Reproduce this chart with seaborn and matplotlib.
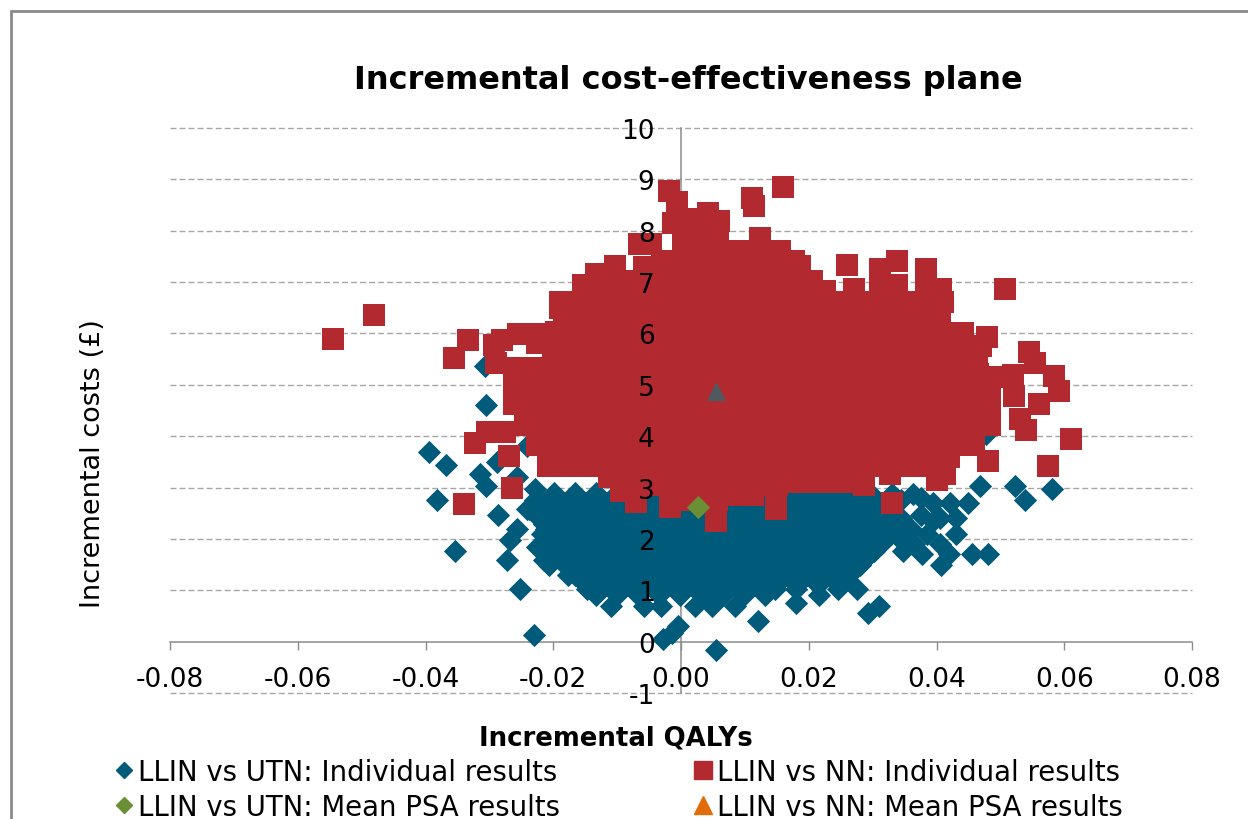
import pandas as pd
import matplotlib
matplotlib.use('Agg')
import matplotlib.pyplot as plt
from matplotlib.lines import Line2D
from matplotlib.patches import Rectangle
import seaborn as sns

TITLE = 'Incremental cost-effectiveness plane'
XLABEL = 'Incremental QALYs'
YLABEL = 'Incremental costs (£)'
X_TICKS = [-0.08, -0.06, -0.04, -0.02, 0.0, 0.02, 0.04, 0.06, 0.08]
Y_TICKS = [-1, 0, 1, 2, 3, 4, 5, 6, 7, 8, 9, 10]

# LLIN vs UTN (cost, [qalys])
utn_rows = [
    (-0.17, [0.0055]),
    (0.06, [-0.0028]), (0.12, [-0.023]), (0.16, [-0.0014]), (0.31, [-0.0005]),
    (0.41, [0.012]), (0.56, [0.0293]),
    (0.7, [-0.011, -0.0058, -0.0031, 0.0022, 0.0049, 0.0085, 0.031]),
    (0.76, [0.018]),
    (0.9, [-0.0133, -0.01, -0.0067, -0.0034, -0.0001, 0.0032, 0.0065, 0.0098, 0.0131, 0.0216]),
    (1.03, [-0.0252, -0.0147, 0.0147, 0.018, 0.0246, 0.0275]),
    (1.1, [-0.0149, -0.0116, -0.0083, -0.005, -0.0017, 0.0016, 0.0049, 0.0082, 0.0115, 0.0148, 0.0181,
           0.0214, 0.0247]),
    (1.3, [-0.0177, -0.0166, -0.0133, -0.01, -0.0067, -0.0034, -0.0001, 0.0032, 0.0065, 0.0098, 0.0131,
           0.0164, 0.0197, 0.023, 0.0263]),
    (1.5, [-0.0206, -0.0182, -0.0149, -0.0116, -0.0083, -0.005, -0.0017, 0.0016, 0.0049, 0.0082, 0.0115,
           0.0148, 0.0181, 0.0214, 0.0247, 0.028, 0.0407]),
    (1.7, [-0.0199, -0.0166, -0.0133, -0.01, -0.0067, -0.0034, -0.0001, 0.0032, 0.0065, 0.0098, 0.0131,
           0.0164, 0.0197, 0.023, 0.0263, 0.0296, 0.0377, 0.042, 0.0455, 0.0481]),
    (1.77, [-0.0354, 0.0347, 0.0302]),
    (1.58, [-0.0272, -0.0214]),
    (1.85, [-0.0225]),
    (1.9, [-0.0215, -0.0182, -0.0149, -0.0116, -0.0083, -0.005, -0.0017, 0.0016, 0.0049, 0.0082, 0.0115,
           0.0148, 0.0181, 0.0214, 0.0247, 0.028, 0.0313, 0.0365, 0.0405]),
    (1.97, [-0.0268, 0.0345]),
    (2.1, [-0.0218, -0.0199, -0.0166, -0.0133, -0.01, -0.0067, -0.0034, -0.0001, 0.0032, 0.0065, 0.0098, 0.0131,
           0.0164, 0.0197, 0.023, 0.0263, 0.0296, 0.0329, 0.0385, 0.043]),
    (2.2, [-0.0257, -0.0211, 0.036]),
    (2.25, [0.034]),
    (2.3, [-0.0215, -0.0182, -0.0149, -0.0116, -0.0083, -0.005, -0.0017, 0.0016, 0.0049, 0.0082, 0.0115,
           0.0148, 0.0181, 0.0214, 0.0247, 0.028, 0.0313]),
    (2.35, [0.0395]),
    (2.4, [-0.0222, 0.0345, 0.0405, 0.043]),
    (2.47, [-0.0286, 0.0375]),
    (2.5, [-0.0199, -0.0166, -0.0133, -0.01, -0.0067, -0.0034, -0.0001, 0.0032, 0.0065, 0.0098, 0.0131,
           0.0164, 0.0197, 0.023, 0.0263, 0.0296, 0.0329]),
    (2.59, [-0.0241, -0.0238]),
    (2.7, [-0.0215, -0.0182, -0.0149, -0.0116, -0.0083, -0.005, -0.0017, 0.0016, 0.0049, 0.0082, 0.0115,
           0.0148, 0.0181, 0.0214, 0.0247, 0.028, 0.0313, 0.0395, 0.0421, 0.0449]),
    (2.75, [-0.0228, 0.0345, 0.0539]),
    (2.76, [-0.0382]),
    (2.8, [0.0375]),
    (2.88, [0.033, 0.0363]),
    (2.9, [-0.0199, -0.0166, -0.0133, -0.01, -0.0067, -0.0034, -0.0001, 0.0032, 0.0065, 0.0098, 0.0131,
           0.0164, 0.0197, 0.023, 0.0263, 0.0296]),
    (2.98, [-0.0228, 0.0581]),
    (3.03, [-0.0305, 0.0468, 0.0523]),
    (3.21, [-0.0257]), (3.27, [-0.0315]), (3.43, [-0.0368]), (3.5, [-0.0288]),
    (3.7, [-0.0394]), (3.8, [-0.0241]), (4.05, [0.0477]), (4.61, [-0.0305]), (5.37, [-0.0307]),
]

# LLIN vs NN (cost, [qalys])
nn_rows = [
    (2.34, [0.0055]), (2.59, [0.0149]),
    (2.63, [-0.0018]), (2.67, [-0.034]), (2.69, [0.033]), (2.72, [-0.007]),
    (2.76, [0.0012, 0.0035, 0.0056]), (2.85, [0.009, 0.0113, 0.0149]),
    (2.94, [-0.0094]), (3.0, [-0.0265]),
    (3.05, [-0.009, -0.006, -0.003, 0.0, 0.003, 0.006, 0.009, 0.012, 0.015, 0.0286]),
    (3.1, [0.0175, 0.02, 0.023, 0.0265]),
    (3.15, [0.04]), (3.2, [-0.0113, -0.0085, -0.0055, -0.0025, 0.0005, 0.0035, 0.0065, 0.0095, 0.0125, 0.0155,
                           0.0185, 0.0215, 0.0245]),
    (3.27, [0.0327, 0.0413]),
    (3.42, [-0.0208, -0.018, -0.015, -0.012, -0.009, -0.006, -0.003, 0.0, 0.003, 0.006, 0.009, 0.012, 0.015,
            0.018, 0.021, 0.024, 0.027, 0.03, 0.033, 0.036, 0.039, 0.0574]),
    (3.52, [0.048]), (3.6, [0.042]),
    (3.62, [-0.027, -0.0195, -0.0165, -0.0135, -0.0105, -0.0075, -0.0045, -0.0015, 0.0015, 0.0045, 0.0075, 0.0105,
            0.0135, 0.0165, 0.0195, 0.0225, 0.0255, 0.0285, 0.0315, 0.0345, 0.0375, 0.0405]),
    (3.82, [-0.0225, -0.02, -0.017, -0.014, -0.011, -0.008, -0.005, -0.002, 0.001, 0.004, 0.007, 0.01, 0.013,
            0.016, 0.019, 0.022, 0.025, 0.028, 0.031, 0.034, 0.037, 0.04, 0.043, 0.0459]),
    (3.87, [-0.0323]), (3.95, [0.0611]),
    (4.02, [-0.0215, -0.0185, -0.0155, -0.0125, -0.0095, -0.0065, -0.0035, -0.0005, 0.0025, 0.0055, 0.0085, 0.0115,
            0.0145, 0.0175, 0.0205, 0.0235, 0.0265, 0.0295, 0.0325, 0.0355, 0.0385, 0.0415, 0.0445]),
    (4.09, [-0.0304, -0.0275]), (4.13, [0.054]),
    (4.22, [-0.0245, -0.0215, -0.0185, -0.0155, -0.0125, -0.0095, -0.0065, -0.0035, -0.0005, 0.0025, 0.0055,
            0.0085, 0.0115, 0.0145, 0.0175, 0.0205, 0.0235, 0.0265, 0.0295, 0.0325, 0.0355, 0.0385, 0.0415,
            0.0445, 0.0459, 0.0484]),
    (4.34, [0.053]),
    (4.42, [-0.0245, -0.0215, -0.0185, -0.0155, -0.0125, -0.0095, -0.0065, -0.0035, -0.0005, 0.0025, 0.0055,
            0.0085, 0.0115, 0.0145, 0.0175, 0.0205, 0.0235, 0.0265, 0.0295, 0.0325, 0.0355, 0.0385, 0.0415,
            0.0445, 0.0465]),
    (4.62, [-0.0261, -0.023, -0.02, -0.017, -0.014, -0.011, -0.008, -0.005, -0.002, 0.001, 0.004, 0.007, 0.01,
            0.013, 0.016, 0.019, 0.022, 0.025, 0.028, 0.031, 0.034, 0.037, 0.04, 0.043, 0.046, 0.0484, 0.056]),
    (4.79, [0.0521]),
    (4.82, [-0.0245, -0.0215, -0.0185, -0.0155, -0.0125, -0.0095, -0.0065, -0.0035, -0.0005, 0.0025, 0.0055,
            0.0085, 0.0115, 0.0145, 0.0175, 0.0205, 0.0235, 0.0265, 0.0295, 0.0325, 0.0355, 0.0385, 0.0415,
            0.0445, 0.0465]),
    (4.88, [0.0592]),
    (5.02, [-0.0261, -0.023, -0.02, -0.017, -0.014, -0.011, -0.008, -0.005, -0.002, 0.001, 0.004, 0.007, 0.01,
            0.013, 0.016, 0.019, 0.022, 0.025, 0.028, 0.031, 0.034, 0.037, 0.04, 0.043, 0.046, 0.0484]),
    (5.15, [0.0498]), (5.17, [0.0584]), (5.2, [0.052]),
    (5.22, [-0.0245, -0.0215, -0.0185, -0.0155, -0.0125, -0.0095, -0.0065, -0.0035, -0.0005, 0.0025, 0.0055,
            0.0085, 0.0115, 0.0145, 0.0175, 0.0205, 0.0235, 0.0265, 0.0295, 0.0325, 0.0355, 0.0385, 0.0415,
            0.0445, 0.0465]),
    (5.33, [-0.0261, -0.023]),
    (5.42, [-0.029, -0.02, -0.017, -0.014, -0.011, -0.008, -0.005, -0.002, 0.001, 0.004, 0.007, 0.01,
            0.013, 0.016, 0.019, 0.022, 0.025, 0.028, 0.031, 0.034, 0.037, 0.04, 0.043, 0.0463, 0.0554]),
    (5.52, [-0.0355]),
    (5.62, [-0.0195, -0.0165, -0.0135, -0.0105, -0.0075, -0.0045, -0.0015, 0.0015, 0.0045, 0.0075, 0.0105, 0.0135,
            0.0165, 0.0195, 0.0225, 0.0255, 0.0285, 0.0315, 0.0345, 0.0375, 0.0405, 0.0435]),
    (5.64, [0.0545]), (5.75, [0.047]), (5.78, [-0.0293]),
    (5.82, [-0.0225, -0.02, -0.017, -0.014, -0.011, -0.008, -0.005, -0.002, 0.001, 0.004, 0.007, 0.01,
            0.013, 0.016, 0.019, 0.022, 0.025, 0.028, 0.031, 0.034, 0.037, 0.04, 0.0441]),
    (5.87, [-0.0333, -0.028]), (5.9, [-0.0545]), (5.93, [0.0479]), (5.99, [-0.0255, -0.0225]),
    (6.0, [0.0415, 0.0441]),
    (6.02, [-0.0195, -0.0165, -0.0135, -0.0105, -0.0075, -0.0045, -0.0015, 0.0015, 0.0045, 0.0075, 0.0105, 0.0135,
            0.0165, 0.0195, 0.0225, 0.0255, 0.0285, 0.0315, 0.0345, 0.0375, 0.0405]),
    (6.22, [-0.0183, -0.016, -0.013, -0.01, -0.007, -0.004, -0.001, 0.002, 0.005, 0.008, 0.011, 0.014, 0.017,
            0.02, 0.023, 0.026, 0.029, 0.032, 0.035, 0.0384]),
    (6.35, [-0.048]),
    (6.42, [-0.0165, -0.0135, -0.0105, -0.0075, -0.0045, -0.0015, 0.0015, 0.0045, 0.0075, 0.0105, 0.0135,
            0.0165, 0.0195, 0.0225, 0.0255, 0.0285, 0.0315, 0.0345, 0.0375, 0.0405]),
    (6.5, [-0.019]),
    (6.62, [-0.019, -0.016, -0.013, -0.01, -0.007, -0.004, -0.001, 0.002, 0.005, 0.008, 0.011, 0.014, 0.017,
            0.02, 0.0235, 0.026, 0.029, 0.032, 0.035, 0.038, 0.041]),
    (6.82, [-0.0135, -0.0105, -0.0075, -0.0045, -0.0015, 0.0015, 0.0045, 0.0075, 0.0105, 0.0135, 0.0165, 0.0195,
            0.0225]),
    (6.87, [0.0507, 0.0271, 0.0311, 0.0384, 0.0407]), (6.94, [-0.0153, 0.0338]),
    (7.02, [-0.013, -0.01, -0.007, -0.004, -0.001, 0.002, 0.005, 0.008, 0.011, 0.014, 0.017, 0.0205]),
    (7.16, [-0.0133]),
    (7.22, [-0.0045, -0.0015, 0.0015, 0.0045, 0.0075, 0.0105, 0.0135, 0.0165]),
    (7.25, [0.0311, 0.0384]), (7.3, [-0.0058]), (7.31, [-0.0103, 0.0186]), (7.33, [0.026]),
    (7.42, [-0.003, -0.001, 0.002, 0.005, 0.008, 0.011, 0.014, 0.0177, 0.0338]),
    (7.6, [0.0003, 0.003, 0.006, 0.009, 0.012, 0.0155]),
    (7.74, [-0.0066, -0.0047]),
    (7.85, [0.0003, 0.003, 0.0058, 0.0124]),
    (8.15, [-0.0012, 0.0012]), (8.19, [0.0059]), (8.23, [0.0025]), (8.35, [0.0042]),
    (8.48, [0.0114]), (8.56, [-0.0007]), (8.64, [0.0111]), (8.77, [-0.0019]), (8.85, [0.016]),
]

utn_mean_x = [0.0027]
utn_mean_y = [2.63]
nn_mean_x = [0.0055]
nn_mean_y = [4.88]

BLUE = '#005A7A'
RED = '#B22A30'
GREEN = '#6A8F35'
GREY = '#505860'
ORANGE = '#E36C0A'
GRID = '#A6A6A6'


def rows_to_frame(rows):
    """(cost, [qalys]) の行を縦持ちの表にする"""
    recs = [(q, cost) for cost, qalys in rows for q in qalys]
    return pd.DataFrame(recs, columns=['qaly', 'cost'])


sns.set_theme(style='white')
plt.rcParams['font.family'] = ['DejaVu Sans']
plt.rcParams['axes.unicode_minus'] = False

fig = plt.figure(figsize=(12.48, 8.2), dpi=100)
ax = fig.add_axes([170 / 1248, 1 - 694 / 820, 1022 / 1248, 565 / 820])

for tick in Y_TICKS:
    if tick != 0:
        ax.axhline(tick, color=GRID, lw=1, ls=(0, (4.3, 2.2)), zorder=0, clip_on=False)

sns.scatterplot(data=rows_to_frame(utn_rows), x='qaly', y='cost', marker='D', s=140,
                color=BLUE, linewidth=0, ax=ax, legend=False, zorder=1)
sns.scatterplot(data=rows_to_frame(nn_rows), x='qaly', y='cost', marker='s', s=250,
                color=RED, linewidth=0, ax=ax, legend=False, zorder=1.1)
sns.scatterplot(x=utn_mean_x, y=utn_mean_y, marker='D', s=140,
                color=GREEN, linewidth=0, ax=ax, legend=False, zorder=1.2)
sns.scatterplot(x=nn_mean_x, y=nn_mean_y, marker='^', s=190,
                color=GREY, linewidth=0, ax=ax, legend=False, zorder=1.3)

ax.set_xlim(-0.08, 0.08)
ax.set_ylim(-1, 10)
ax.set_xticks(X_TICKS)
ax.set_xticklabels([f'{t:.2f}' for t in X_TICKS])
ax.set_yticks(Y_TICKS)
ax.set_axisbelow(False)
ax.tick_params(axis='x', direction='out', length=6, width=1, color='#8C8C8C', labelsize=19, pad=11.5,
               bottom=True, labelcolor='black')
ax.tick_params(axis='y', length=0, labelsize=19, pad=19, labelcolor='black')

for side in ['top', 'right']:
    ax.spines[side].set_visible(False)
for side in ['left', 'bottom']:
    ax.spines[side].set_position(('data', 0))
    ax.spines[side].set_color('#8C8C8C')
    ax.spines[side].set_linewidth(1.1)
    ax.spines[side].set_zorder(0.5)

ax.set_xlabel('')
ax.set_ylabel('')
fig.text(688 / 1248, 1 - 80.5 / 820, TITLE, fontsize=23, fontweight='bold', color='black',
         ha='center', va='center')
fig.text(616 / 1248, 1 - 739 / 820, XLABEL, fontsize=18.7, fontweight='bold', color='black',
         ha='center', va='center')
fig.text(93 / 1248, 1 - 464 / 820, YLABEL, fontsize=19.5, rotation=90, color='black',
         ha='center', va='center')

# 図の外枠（右と下は画像の外まで伸びる）
fig.add_artist(Rectangle((11 / 1248, -0.05), 1.1, 1 - 12 / 820 + 0.05, transform=fig.transFigure,
                         fill=False, edgecolor='#8A8A8A', lw=2))

handles = [
    Line2D([], [], ls='', marker='D', ms=8.5, color=BLUE),
    Line2D([], [], ls='', marker='D', ms=8.5, color=GREEN),
    Line2D([], [], ls='', marker='s', ms=13, color=RED),
    Line2D([], [], ls='', marker='^', ms=13, color=ORANGE),
]
labels = ['LLIN vs UTN: Individual results', 'LLIN vs UTN: Mean PSA results',
          'LLIN vs NN: Individual results', 'LLIN vs NN: Mean PSA results']
fig.legend(handles, labels, ncol=2, loc='upper left', bbox_to_anchor=(110 / 1248, 1 - 759 / 820),
           frameon=False, fontsize=19.8, labelcolor='black', borderpad=0, borderaxespad=0, handlelength=1,
           handletextpad=0, columnspacing=4.72, labelspacing=0.25)

fig.savefig('out.png', dpi=100)
